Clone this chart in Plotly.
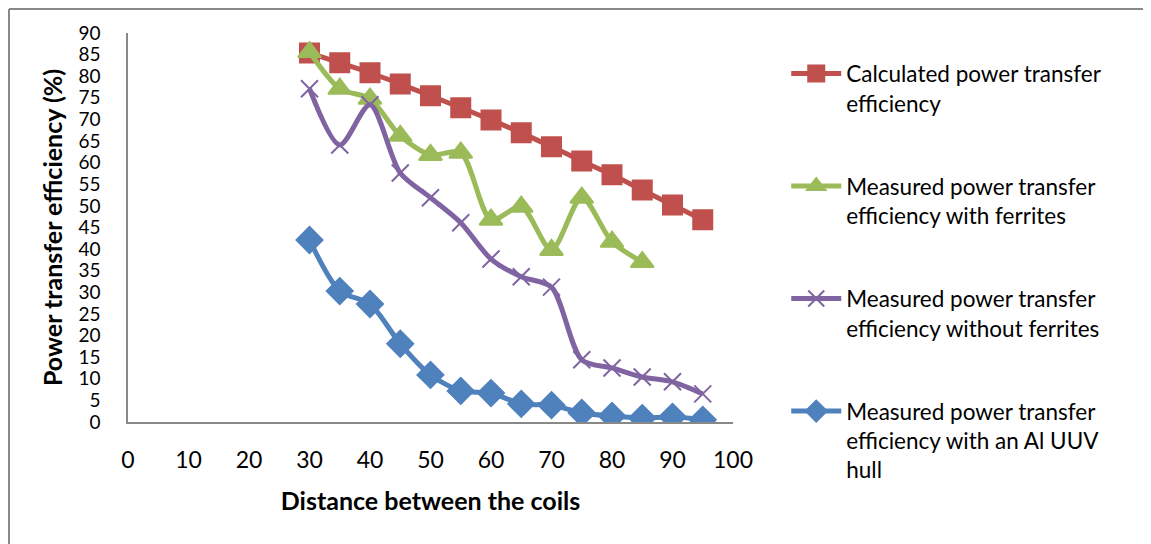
import plotly.graph_objects as go

distance = [30, 35, 40, 45, 50, 55, 60, 65, 70, 75, 80, 85, 90, 95]
distance_ferrites = [30, 35, 40, 45, 50, 55, 60, 65, 70, 75, 80, 85]

calculated = [85.4, 83.1, 80.8, 78.2, 75.5, 72.7, 69.9, 66.9, 63.7, 60.4, 57.2, 53.7, 50.2, 46.8]
with_ferrites = [85.6, 77.1, 74.8, 66.2, 61.8, 62.3, 46.8, 49.8, 39.8, 51.9, 41.7, 37.0]
without_ferrites = [77.1, 64.1, 73.4, 57.6, 51.9, 46.1, 37.7, 33.6, 31.2, 14.4, 12.5, 10.4, 9.3, 6.5]
al_hull = [42.1, 30.3, 27.3, 18.1, 10.9, 7.2, 6.7, 4.2, 3.9, 2.1, 1.4, 0.9, 1.2, 0.5]

x_ticks = [0, 10, 20, 30, 40, 50, 60, 70, 80, 90, 100]
y_ticks = list(range(0, 95, 5))

FONT = "Lato, 'Open Sans', sans-serif"

series = [
    ("Calculated power transfer<br>efficiency", distance, calculated, "#C0504D", "square", 19),
    ("Measured power transfer<br>efficiency with ferrites", distance_ferrites, with_ferrites, "#9BBB59", "triangle-up", 20),
    ("Measured power transfer<br>efficiency without ferrites", distance, without_ferrites, "#8064A2", "x-thin-open", 17),
    ("Measured power transfer<br>efficiency with an Al UUV<br>hull", distance, al_hull, "#4F81BD", "diamond", 20),
]

fig = go.Figure()

for i, (name, xs, ys, color, symbol, size) in enumerate(series):
    fig.add_trace(go.Scatter(
        x=xs, y=ys, name=name, mode="lines+markers",
        legendgroup=str(i),
        line=dict(color=color, width=5, shape="spline", smoothing=0.8),
        marker=dict(symbol=symbol, size=size, color=color,
                    line=dict(color=color, width=2)),
    ))

# the page body adds 8px around the figure, so the figure is 8px smaller
fig.update_layout(
    width=1143, height=536,
    margin=dict(l=120, r=418, t=25, b=122),
    paper_bgcolor="white", plot_bgcolor="white",
    font=dict(family=FONT, size=23, color="black"),
    showlegend=True,
    legend=dict(
        x=1.088, y=0.95, xanchor="left", yanchor="top",
        valign="top", tracegroupgap=51, maxheight=520,
        font=dict(size=22.5), itemwidth=50,
    ),
    xaxis=dict(
        range=[0, 100], tickvals=x_ticks, showgrid=False, zeroline=False,
        showline=True, linecolor="#888888", linewidth=1.5,
        ticks="outside", ticklen=17, tickcolor="rgba(0,0,0,0)",
        title=dict(text="<b>Distance between the coils</b>", font=dict(size=25), standoff=20),
    ),
    yaxis=dict(
        range=[0, 90], tickvals=y_ticks, showgrid=False, zeroline=False,
        showline=True, linecolor="#888888", linewidth=1.5,
        tickfont=dict(size=19),
        ticks="outside", ticklen=22, tickcolor="rgba(0,0,0,0)",
        title=dict(text="<b>Power transfer efficiency (%)</b>", font=dict(size=25), standoff=9),
    ),
)

# chart frame (top and left edges visible in the original)
fig.add_shape(type="line", xref="paper", yref="paper", x0=-0.1967, x1=1.8, y0=1.0617, y1=1.0617,
              line=dict(color="#888888", width=2))
fig.add_shape(type="line", xref="paper", yref="paper", x0=-0.1967, x1=-0.1967, y0=-0.5, y1=1.0617,
              line=dict(color="#888888", width=2))

fig.write_html("out.html")
